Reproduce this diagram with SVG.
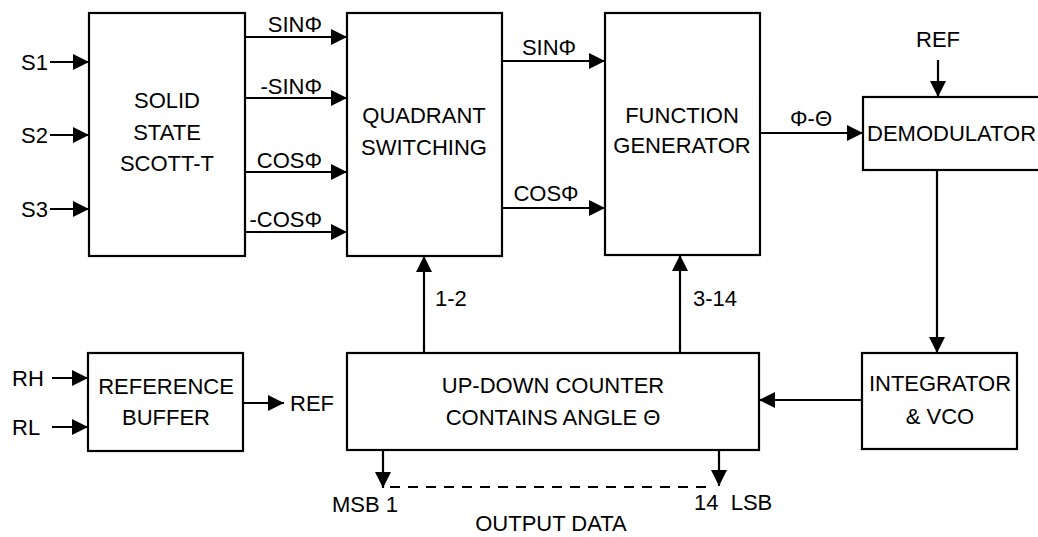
<svg xmlns="http://www.w3.org/2000/svg" width="1038" height="537" viewBox="0 0 1038 537">
<style>
.box{fill:#fff;stroke:#000;stroke-width:2.2}
.ln{fill:none;stroke:#000;stroke-width:2.2}
.t{font-family:"Liberation Sans",Arial,sans-serif;font-size:22px;fill:#000}
.m{text-anchor:middle}
.e{text-anchor:end}
</style>
<defs>
<marker id="ah" viewBox="0 0 16 16" refX="16" refY="8" markerWidth="16" markerHeight="16" markerUnits="userSpaceOnUse" orient="auto">
<path d="M0,0 L16,8 L0,16 Z" fill="#000"/>
</marker>
</defs>
<rect width="1038" height="537" fill="#fff"/>
<g id="connectors">
<path class="ln" d="M50,62 H89" marker-end="url(#ah)"/>
<path class="ln" d="M50,135 H89" marker-end="url(#ah)"/>
<path class="ln" d="M50,209 H89" marker-end="url(#ah)"/>
<path class="ln" d="M245,37 H347" marker-end="url(#ah)"/>
<path class="ln" d="M245,98 H347" marker-end="url(#ah)"/>
<path class="ln" d="M245,172 H347" marker-end="url(#ah)"/>
<path class="ln" d="M245,232 H347" marker-end="url(#ah)"/>
<path class="ln" d="M502,61 H605" marker-end="url(#ah)"/>
<path class="ln" d="M502,208 H605" marker-end="url(#ah)"/>
<path class="ln" d="M760,133 H863" marker-end="url(#ah)"/>
<path class="ln" d="M938,60 V97" marker-end="url(#ah)"/>
<path class="ln" d="M937,170 V353" marker-end="url(#ah)"/>
<path class="ln" d="M862,400 H759" marker-end="url(#ah)"/>
<path class="ln" d="M424,353 V256" marker-end="url(#ah)"/>
<path class="ln" d="M680,353 V255" marker-end="url(#ah)"/>
<path class="ln" d="M52,378 H88" marker-end="url(#ah)"/>
<path class="ln" d="M52,427 H88" marker-end="url(#ah)"/>
<path class="ln" d="M243,403 H284" marker-end="url(#ah)"/>
<path class="ln" d="M383,450 V488" marker-end="url(#ah)"/>
<path class="ln" d="M719,450 V486" marker-end="url(#ah)"/>
<path class="ln" d="M390,487 H712" stroke-dasharray="10,8"/>
</g>
<g id="scott-t">
<rect class="box" x="89" y="13" width="156" height="243"/>
<text class="t m" x="167" y="108">SOLID</text>
<text class="t m" x="167" y="140">STATE</text>
<text class="t m" x="167" y="171">SCOTT-T</text>
</g>
<g id="quadrant">
<rect class="box" x="347" y="13" width="155" height="243"/>
<text class="t m" x="424" y="123">QUADRANT</text>
<text class="t m" x="424" y="155">SWITCHING</text>
</g>
<g id="function-generator">
<rect class="box" x="605" y="13" width="155" height="242"/>
<text class="t m" x="682" y="123">FUNCTION</text>
<text class="t m" x="682" y="153">GENERATOR</text>
</g>
<g id="demodulator">
<rect class="box" x="863" y="97" width="190" height="73"/>
<text class="t" x="867" y="141">DEMODULATOR</text>
</g>
<g id="integrator">
<rect class="box" x="862" y="353" width="155" height="96"/>
<text class="t m" x="940" y="391">INTEGRATOR</text>
<text class="t m" x="940" y="424">&amp; VCO</text>
</g>
<g id="counter">
<rect class="box" x="347" y="353" width="412" height="97"/>
<text class="t m" x="553" y="393">UP-DOWN COUNTER</text>
<text class="t m" x="553" y="425">CONTAINS ANGLE Θ</text>
</g>
<g id="reference-buffer">
<rect class="box" x="88" y="353" width="155" height="98"/>
<text class="t m" x="166" y="394">REFERENCE</text>
<text class="t m" x="166" y="425">BUFFER</text>
</g>
<g id="labels">
<text class="t" x="21" y="70">S1</text>
<text class="t" x="21" y="143">S2</text>
<text class="t" x="21" y="217">S3</text>
<text class="t e" x="322" y="32">SINΦ</text>
<text class="t e" x="322" y="94">-SINΦ</text>
<text class="t e" x="322" y="168">COSΦ</text>
<text class="t e" x="322" y="227">-COSΦ</text>
<text class="t m" x="549" y="55">SINΦ</text>
<text class="t m" x="546" y="201">COSΦ</text>
<text class="t m" x="811" y="126">Φ-Θ</text>
<text class="t m" x="938" y="47">REF</text>
<text class="t" x="435" y="306">1-2</text>
<text class="t" x="693" y="306">3-14</text>
<text class="t" x="12" y="386">RH</text>
<text class="t" x="12" y="435">RL</text>
<text class="t" x="290" y="411">REF</text>
<text class="t" x="332" y="512">MSB 1</text>
<text class="t" x="694" y="510" style="white-space:pre">14  LSB</text>
<text class="t m" x="551" y="531">OUTPUT DATA</text>
</g>
</svg>
